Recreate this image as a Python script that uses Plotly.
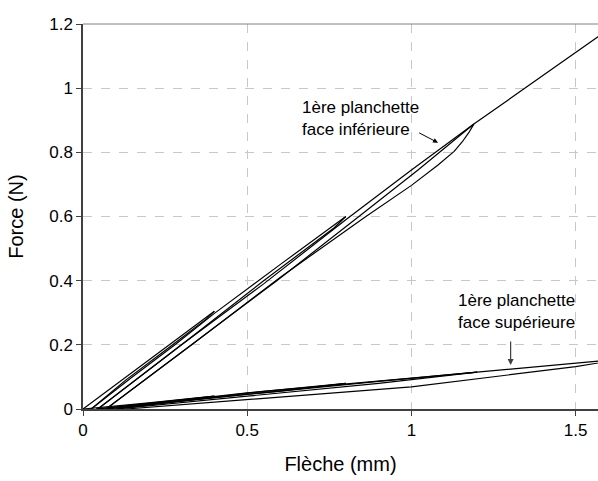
import plotly.graph_objects as go

# face inférieure (cycles charge / décharge)
inf_x = [
    [0, 0.13, 0.262, 0.4],
    [0.4, 0.375, 0.26, 0.13, 0.025],
    [0.025, 0.15, 0.28, 0.4, 0.6, 0.8],
    [0.8, 0.765, 0.55, 0.3, 0.045],
    [0.045, 0.3, 0.55, 0.8, 1.0, 1.19],
    [1.19, 1.175, 1.155, 1.13, 1.08, 1.0, 0.857, 0.6, 0.331, 0.07],
    [0.07, 0.33, 0.59, 0.84, 1.02, 1.19, 1.4, 1.6],
]
inf_y = [
    [0, 0.1, 0.2, 0.305],
    [0.305, 0.28, 0.19, 0.09, 0],
    [0, 0.1, 0.2, 0.298, 0.45, 0.6],
    [0.6, 0.565, 0.4, 0.2, 0],
    [0, 0.2, 0.39, 0.59, 0.745, 0.888],
    [0.888, 0.862, 0.833, 0.803, 0.76, 0.697, 0.597, 0.41, 0.2, 0],
    [0, 0.2, 0.4, 0.6, 0.745, 0.888, 1.04, 1.183],
]

# face supérieure
sup_x = [
    [0, 0.1, 0.2, 0.4],
    [0.4, 0.3, 0.15, 0.04],
    [0.04, 0.2, 0.5, 0.8],
    [0.8, 0.6, 0.3, 0.07],
    [0.07, 0.3, 0.6, 0.9, 1.2],
    [1.2, 0.9, 0.5, 0.1],
    [0.1, 0.54, 1.0, 1.2, 1.6],
    [1.62, 1.5, 1.0, 0.54, 0.13],
]
sup_y = [
    [0, 0.009, 0.019, 0.04],
    [0.04, 0.028, 0.012, 0],
    [0, 0.016, 0.05, 0.08],
    [0.08, 0.056, 0.025, 0],
    [0, 0.025, 0.056, 0.086, 0.115],
    [0.115, 0.08, 0.04, 0],
    [0, 0.054, 0.096, 0.114, 0.152],
    [0.152, 0.132, 0.069, 0.033, 0],
]

fig = go.Figure()
for xs, ys in list(zip(inf_x, inf_y)) + list(zip(sup_x, sup_y)):
    fig.add_trace(go.Scatter(x=xs, y=ys, mode='lines',
                             line=dict(color='black', width=1.2),
                             showlegend=False, hoverinfo='skip'))

fnt = dict(family='Liberation Sans, Arial, sans-serif', size=17, color='black')

fig.update_layout(
    width=598, height=481,
    margin=dict(l=83, r=0, t=24, b=72),
    paper_bgcolor='white', plot_bgcolor='white',
    font=fnt,
    xaxis=dict(range=[0, 1.568], tickvals=[0, 0.5, 1, 1.5], ticktext=['0', '0.5', '1', '1.5'],
               showgrid=True, gridcolor='#c8c8c8', griddash='dash', gridwidth=1,
               showline=True, linecolor='#404040', linewidth=1.5,
               ticks='outside', ticklen=5, tickcolor='#404040', automargin=False,
               zeroline=False, title=dict(text='Flèche (mm)', standoff=18)),
    yaxis=dict(range=[0, 1.2], tickvals=[0, 0.2, 0.4, 0.6, 0.8, 1, 1.2],
               ticktext=['0', '0.2', '0.4', '0.6', '0.8', '1', '1.2'],
               showgrid=True, gridcolor='#c8c8c8', griddash='dash', gridwidth=1,
               showline=True, linecolor='#404040', linewidth=1.5,
               ticks='outside', ticklen=5, tickcolor='#404040', automargin=False,
               zeroline=False, title=dict(text='Force (N)', standoff=20)),
    shapes=[dict(type='line', xref='paper', yref='paper', x0=0, x1=1, y0=1, y1=1,
                 line=dict(color='#808080', width=1))],
    annotations=[
        dict(x=0.66, y=0.907, xref='x', yref='y', text='1ère planchette<br>face inférieure',
             showarrow=False, xanchor='left', yanchor='middle', align='left', font=fnt),
        dict(x=1.081, y=0.83, ax=1.019, ay=0.863, xref='x', yref='y', axref='x', ayref='y',
             text='', showarrow=True, arrowhead=2, arrowsize=1, arrowwidth=1, arrowcolor='black'),
        dict(x=1.32, y=0.305, xref='x', yref='y', text='1ère planchette<br>face supérieure',
             showarrow=False, xanchor='center', yanchor='middle', align='center', font=fnt),
        dict(x=1.302, y=0.137, ax=1.302, ay=0.215, xref='x', yref='y', axref='x', ayref='y',
             text='', showarrow=True, arrowhead=2, arrowsize=1, arrowwidth=1.2, arrowcolor='#404040'),
    ],
)

# pas de marge autour de la figure dans la page
fig.write_html("out.html", config={'displayModeBar': False},
               post_script="document.body.style.margin='0';document.body.style.overflow='hidden';")
